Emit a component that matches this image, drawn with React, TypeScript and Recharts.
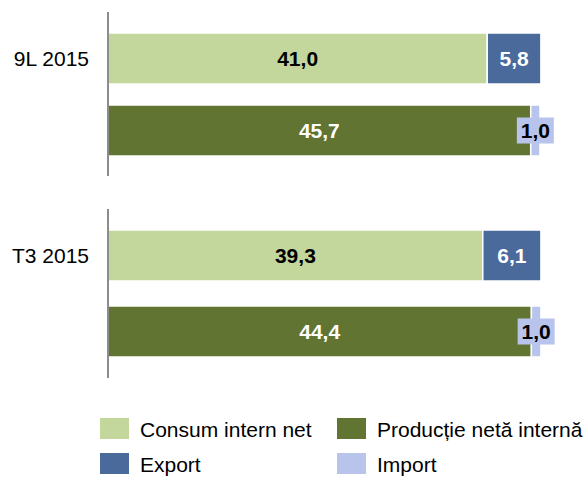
import { BarChart, Bar, XAxis, YAxis, LabelList } from "recharts";

const categories = ["9L 2015", "T3 2015"];
const consum = [41.0, 39.3];
const exportVals = [5.8, 6.1];
const productie = [45.7, 44.4];
const importVals = [1.0, 1.0];
// each panel has its own value axis, as in the original
const axisMax = [50, 48.5];

const legendItems = [
  { name: "Consum intern net", color: "#c3d69b" },
  { name: "Producție netă internă", color: "#617432" },
  { name: "Export", color: "#4a6a9b" },
  { name: "Import", color: "#b8c4ec" },
];

const C_CONSUM = "#c3d69b";
const C_PROD = "#617432";
const C_EXPORT = "#4a6a9b";
const C_IMPORT = "#b8c4ec";

const rows = categories.map((name, i) => ({
  name,
  consum: consum[i],
  export: exportVals[i],
  productie: productie[i],
  import: importVals[i],
}));

const fmt = (v: any) => Number(v).toFixed(1).replace(".", ",");
const BAR = 51;
const FONT = 21;

const ImportLabel = (props: any) => {
  const { x, y, width, height, value } = props;
  const cx = x + width / 2;
  const cy = y + height / 2;
  return (
    <g>
      <rect x={cx - 18.5} y={cy - 13} width={37} height={26} fill={C_IMPORT} />
      <text x={cx} y={cy} textAnchor="middle" dominantBaseline="central"
        fontSize={FONT} fontWeight="bold" fill="#000">{fmt(value)}</text>
    </g>
  );
};

function Panel({ row, max, height, top, bottom, gap }: any) {
  const Tick = (props: any) => {
    const { x, y, payload } = props;
    return (
      <text x={x - 11} y={y - (BAR + gap) / 2} textAnchor="end" dominantBaseline="central"
        fontSize={FONT} fill="#000">{payload.value}</text>
    );
  };
  return (
    <BarChart width={587} height={height} data={[row]} layout="vertical"
      margin={{ top, bottom, left: 8, right: 16.5 }} barSize={BAR} barGap={gap}>
      <XAxis type="number" domain={[0, max]} hide />
      <YAxis type="category" dataKey="name" width={100} tickLine={false}
        axisLine={{ stroke: "#8c8c8c", strokeWidth: 2 }} tick={<Tick />} />
      <Bar dataKey="consum" stackId="a" fill={C_CONSUM} stroke="#fff" strokeWidth={1.5} isAnimationActive={false}>
        <LabelList dataKey="consum" position="center" formatter={fmt} fill="#000" fontSize={FONT} fontWeight="bold" />
      </Bar>
      <Bar dataKey="export" stackId="a" fill={C_EXPORT} stroke="#fff" strokeWidth={1.5} isAnimationActive={false}>
        <LabelList dataKey="export" position="center" formatter={fmt} fill="#fff" fontSize={FONT} fontWeight="bold" />
      </Bar>
      <Bar dataKey="productie" stackId="b" fill={C_PROD} stroke="#fff" strokeWidth={1.5} isAnimationActive={false}>
        <LabelList dataKey="productie" position="center" formatter={fmt} fill="#fff" fontSize={FONT} fontWeight="bold" />
      </Bar>
      <Bar dataKey="import" stackId="b" fill={C_IMPORT} stroke="#fff" strokeWidth={1.5} isAnimationActive={false}>
        <LabelList dataKey="import" content={<ImportLabel />} />
      </Bar>
    </BarChart>
  );
}

export default function App() {
  return (
    <div style={{ position: "absolute", left: 0, top: 0, width: 587, height: 477, overflow: "hidden",
      background: "#fff", fontFamily: "'Liberation Sans', Arial, sans-serif" }}>
      <Panel row={rows[0]} max={axisMax[0]} height={190} top={12} bottom={14} gap={21} />
      <Panel row={rows[1]} max={axisMax[1]} height={200} top={19} bottom={12} gap={25} />
      <div style={{ position: "absolute", left: 100, top: 418, width: 500,
        display: "grid", gridTemplateColumns: "237px 263px", rowGap: 14 }}>
        {legendItems.map((it) => (
          <div key={it.name} style={{ display: "flex", alignItems: "center", whiteSpace: "nowrap", height: 21 }}>
            <span style={{ width: 29, height: 21, background: it.color, display: "inline-block", flex: "none" }} />
            <span style={{ marginLeft: 11, fontSize: FONT, color: "#000", lineHeight: "21px", position: "relative", top: 1 }}>{it.name}</span>
          </div>
        ))}
      </div>
    </div>
  );
}
